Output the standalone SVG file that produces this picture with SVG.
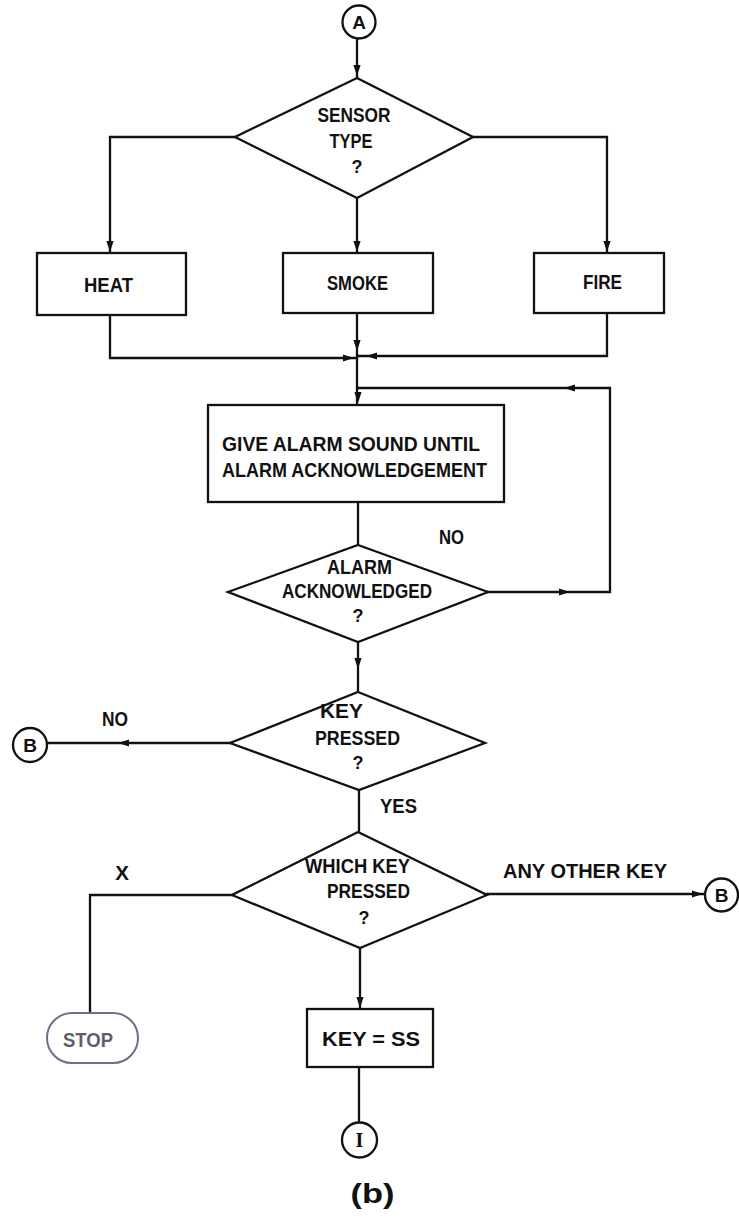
<svg xmlns="http://www.w3.org/2000/svg" xmlns:xlink="http://www.w3.org/1999/xlink" width="739" height="1218" viewBox="0 0 739 1218">
<style>
.ln{fill:none;stroke:#111;stroke-width:2.3;stroke-linecap:square;stroke-linejoin:miter}
.sh{fill:#fff;stroke:#111;stroke-width:2.3;stroke-linejoin:miter}
.t{font-family:"Liberation Sans",Arial,sans-serif;font-weight:bold;font-size:20.5px;fill:#111;text-anchor:middle}
.q{font-family:"Liberation Sans",Arial,sans-serif;font-weight:bold;font-size:18px;fill:#111;text-anchor:middle}
.c{font-family:"Liberation Sans",Arial,sans-serif;font-weight:bold;font-size:19px;fill:#111;text-anchor:middle}
.stop{fill:#fff;stroke:#6e6e8c;stroke-width:2}
.stopt{font-family:"Liberation Sans",Arial,sans-serif;font-weight:bold;font-size:20.5px;fill:#5e5e70;text-anchor:middle}
</style>
<defs>
<path id="ah" d="M0,0 L-11,-3.6 L-11,3.6 Z" fill="#111"/>
</defs>
<rect width="739" height="1218" fill="#fff"/>
<g id="connectors">
<path class="ln" d="M357,39 V78"/>
<path class="ln" d="M235,137 H110 V253"/>
<path class="ln" d="M357,198 V253"/>
<path class="ln" d="M473,137 H607 V253"/>
<path class="ln" d="M110,315 V358 H357"/>
<path class="ln" d="M607,313 V356 H358"/>
<path class="ln" d="M357,313 V405"/>
<path class="ln" d="M358,388 H610 V592 H488"/>
<path class="ln" d="M358,502 V545"/>
<path class="ln" d="M358,642 V692"/>
<path class="ln" d="M230,743 H47"/>
<path class="ln" d="M359,790 V832"/>
<path class="ln" d="M232,895 H90 V1013"/>
<path class="ln" d="M487,894 H705"/>
<path class="ln" d="M360,948 V1009"/>
<path class="ln" d="M359,1067 V1123"/>
<use xlink:href="#ah" transform="translate(357,76) rotate(90)"/>
<use xlink:href="#ah" transform="translate(110,252) rotate(90)"/>
<use xlink:href="#ah" transform="translate(357,252) rotate(90)"/>
<use xlink:href="#ah" transform="translate(607,252) rotate(90)"/>
<use xlink:href="#ah" transform="translate(354,358)"/>
<use xlink:href="#ah" transform="translate(357,351) rotate(90)"/>
<use xlink:href="#ah" transform="translate(366,356) rotate(180)"/>
<use xlink:href="#ah" transform="translate(564,388) rotate(180)"/>
<use xlink:href="#ah" transform="translate(358,403) rotate(90)"/>
<use xlink:href="#ah" transform="translate(570,592)"/>
<use xlink:href="#ah" transform="translate(358,669) rotate(90)"/>
<use xlink:href="#ah" transform="translate(118,743) rotate(180)"/>
<use xlink:href="#ah" transform="translate(703,894)"/>
<use xlink:href="#ah" transform="translate(360,1008) rotate(90)"/>
</g>
<g id="nodeA"><circle class="sh" cx="359" cy="22" r="16.5"/><text class="c" x="359" y="29">A</text></g>
<g id="sensorType"><polygon class="sh" points="357,78 473,137 357,198 235,137"/>
<text class="t" x="354" y="122" textLength="73" lengthAdjust="spacingAndGlyphs">SENSOR</text>
<text class="t" x="351" y="148" textLength="43" lengthAdjust="spacingAndGlyphs">TYPE</text>
<text class="q" x="357" y="173">?</text></g>
<g id="heat"><rect class="sh" x="37" y="253" width="149" height="62"/><text class="t" x="108.5" y="292" textLength="49" lengthAdjust="spacingAndGlyphs">HEAT</text></g>
<g id="smoke"><rect class="sh" x="283" y="253" width="150" height="60"/><text class="t" x="357.5" y="290" textLength="61" lengthAdjust="spacingAndGlyphs">SMOKE</text></g>
<g id="fire"><rect class="sh" x="534" y="253" width="130" height="60"/><text class="t" x="602.5" y="289" textLength="39" lengthAdjust="spacingAndGlyphs">FIRE</text></g>
<g id="alarmSound"><rect class="sh" x="208" y="405" width="296" height="97"/>
<text class="t" x="351" y="451" textLength="258" lengthAdjust="spacingAndGlyphs">GIVE ALARM SOUND UNTIL</text>
<text class="t" x="354.5" y="477" textLength="265" lengthAdjust="spacingAndGlyphs">ALARM ACKNOWLEDGEMENT</text></g>
<g id="alarmAck"><polygon class="sh" points="358,545 488,592 358,642 228,592"/>
<text class="t" x="359.5" y="574" textLength="65" lengthAdjust="spacingAndGlyphs">ALARM</text>
<text class="t" x="357" y="598" textLength="150" lengthAdjust="spacingAndGlyphs">ACKNOWLEDGED</text>
<text class="q" x="358" y="622">?</text>
<text class="t" x="451.5" y="544" textLength="25" lengthAdjust="spacingAndGlyphs">NO</text></g>
<g id="keyPressed"><polygon class="sh" points="358,692 485,743 359,790 230,743"/>
<text class="t" x="341.5" y="718" textLength="43" lengthAdjust="spacingAndGlyphs">KEY</text>
<text class="t" x="357.5" y="745" textLength="85" lengthAdjust="spacingAndGlyphs">PRESSED</text>
<text class="q" x="358" y="769">?</text>
<text class="t" x="115" y="726" textLength="26" lengthAdjust="spacingAndGlyphs">NO</text>
<text class="t" x="398.5" y="813" textLength="37" lengthAdjust="spacingAndGlyphs">YES</text></g>
<g id="nodeB1"><circle class="sh" cx="30" cy="745" r="17"/><text class="c" x="30" y="752">B</text></g>
<g id="whichKey"><polygon class="sh" points="358,832 487,895 360,948 232,895"/>
<text class="t" x="357.5" y="873" textLength="105" lengthAdjust="spacingAndGlyphs">WHICH KEY</text>
<text class="t" x="368.5" y="898" textLength="83" lengthAdjust="spacingAndGlyphs">PRESSED</text>
<text class="q" x="364" y="924">?</text>
<text class="t" x="122" y="880">X</text>
<text class="t" x="585" y="878" textLength="164" lengthAdjust="spacingAndGlyphs">ANY OTHER KEY</text></g>
<g id="nodeB2"><circle class="sh" cx="721.5" cy="895" r="16.5"/><text class="c" x="721.5" y="902">B</text></g>
<g id="stop"><rect class="stop" x="47" y="1013" width="91" height="50" rx="25" ry="25"/><text class="stopt" x="88" y="1047" textLength="50" lengthAdjust="spacingAndGlyphs">STOP</text></g>
<g id="keySS"><rect class="sh" x="307" y="1009" width="126" height="58"/><text class="t" x="371" y="1046" textLength="98" lengthAdjust="spacingAndGlyphs">KEY = SS</text></g>
<g id="nodeI"><circle class="sh" cx="359.5" cy="1140" r="17.5"/><text x="359.5" y="1147" style="font-family:'Liberation Serif',serif;font-weight:bold;font-size:20px;text-anchor:middle;fill:#111">I</text></g>
<text x="372.5" y="1203" textLength="44" lengthAdjust="spacingAndGlyphs" style="font-family:'Liberation Sans',Arial,sans-serif;font-weight:bold;font-size:27px;text-anchor:middle;fill:#111">(b)</text>
</svg>
